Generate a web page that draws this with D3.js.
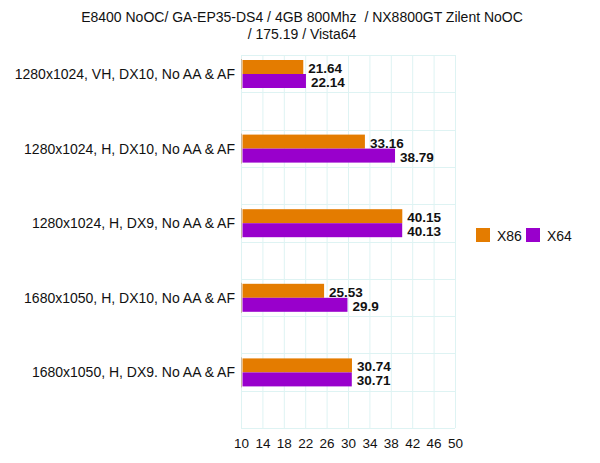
<!DOCTYPE html>
<html>
<head>
<meta charset="utf-8">
<script src="https://cdn.jsdelivr.net/npm/d3@7"></script>
<style>
  body { margin: 0; background: #fff; }
  text { font-family: "Liberation Sans", Arial, sans-serif; }
</style>
</head>
<body>
<svg id="chart" width="600" height="463"></svg>
<script>
let categories = [
    "1280x1024, VH, DX10, No AA & AF",
    "1280x1024, H, DX10, No AA & AF",
    "1280x1024, H, DX9, No AA & AF",
    "1680x1050, H, DX10, No AA & AF",
    "1680x1050, H, DX9. No AA & AF"
];
let x86 = [21.64, 33.16, 40.15, 25.53, 30.74];
let x64 = [22.14, 38.79, 40.13, 29.9, 30.71];
let seriesNames = ["X86", "X64"];
let ticks = [10, 14, 18, 22, 26, 30, 34, 38, 42, 46, 50];
let titleLines = ["E8400 NoOC/ GA-EP35-DS4 / 4GB 800Mhz  / NX8800GT Zilent NoOC", "/ 175.19 / Vista64"];

let colors = ["#e47c00", "#9900cc"];
let font = "'Liberation Sans', Arial, sans-serif";

let svg = d3.select("#chart");

let scaleX = d3.scaleLinear().domain([10, 50]).range([241, 455]);
let scaleY = d3.scaleBand().domain(categories).range([55, 428]).paddingInner(0).paddingOuter(0);

// title
svg.append("g").selectAll("text")
    .data(titleLines)
    .enter().append("text")
    .attr("x", 302)
    .attr("y", (d, i) => 22 + i * 17)
    .attr("text-anchor", "middle")
    .attr("font-size", 14)
    .attr("fill", "#111")
    .style("white-space", "pre")
    .text(d => d);

// grid
let grid = svg.append("g");
grid.selectAll("line.v")
    .data(ticks)
    .enter().append("line")
    .attr("x1", d => scaleX(d) + 0.5)
    .attr("x2", d => scaleX(d) + 0.5)
    .attr("y1", scaleY.range()[0])
    .attr("y2", scaleY.range()[1])
    .attr("stroke", "#def3f3");

let halfSteps = d3.range(categories.length * 2 + 1);
grid.selectAll("line.h")
    .data(halfSteps)
    .enter().append("line")
    .attr("x1", scaleX(10))
    .attr("x2", scaleX(50))
    .attr("y1", d => Math.round(55 + d * scaleY.step() / 2) + 0.5)
    .attr("y2", d => Math.round(55 + d * scaleY.step() / 2) + 0.5)
    .attr("stroke", "#def3f3");

// bars
let barH = 14;
let groups = svg.append("g").selectAll("g")
    .data(categories)
    .enter().append("g");

[x86, x64].forEach((vals, s) => {
    groups.append("rect")
        .attr("x", scaleX(10) + 1.5)
        .attr("y", (d, i) => scaleY(d) + 5 + s * barH)
        .attr("width", (d, i) => scaleX(vals[i]) - scaleX(10) - 1.5)
        .attr("height", barH)
        .attr("fill", colors[s]);

    groups.append("text")
        .attr("x", (d, i) => scaleX(vals[i]) + 5)
        .attr("y", (d, i) => scaleY(d) + 5 + s * barH + 13)
        .attr("font-size", 13.5)
        .attr("font-weight", "bold")
        .attr("fill", "#111")
        .text((d, i) => vals[i]);
});

// left axis ticks at each group
svg.selectAll("line.ax")
    .data(categories)
    .enter().append("line")
    .attr("x1", scaleX(10) + 0.5)
    .attr("x2", scaleX(10) + 0.5)
    .attr("y1", d => scaleY(d) + 4)
    .attr("y2", d => scaleY(d) + 6 + barH * 2)
    .attr("stroke", "#c8b8a0");

// category labels
svg.append("g").selectAll("text")
    .data(categories)
    .enter().append("text")
    .attr("x", 235)
    .attr("y", d => scaleY(d) + 5 + barH + 5)
    .attr("text-anchor", "end")
    .attr("font-size", 14)
    .attr("fill", "#111")
    .text(d => d);

// x axis labels
let axis = d3.axisBottom(scaleX).tickValues(ticks).tickSize(0).tickPadding(0);
let gx = svg.append("g")
    .attr("transform", "translate(0,437)")
    .call(axis);
gx.select(".domain").remove();
gx.selectAll("text")
    .attr("font-size", 13.5)
    .attr("font-family", font)
    .attr("fill", "#111")
    .attr("dy", "0.8em");

// legend
let legend = svg.append("g").selectAll("g")
    .data(seriesNames)
    .enter().append("g")
    .attr("transform", (d, i) => "translate(" + (476 + i * 50) + ",228)");
legend.append("rect")
    .attr("width", 14)
    .attr("height", 14)
    .attr("fill", (d, i) => colors[i]);
legend.append("text")
    .attr("x", 21)
    .attr("y", 13)
    .attr("font-size", 14)
    .attr("fill", "#111")
    .text(d => d);
</script>
</body>
</html>
